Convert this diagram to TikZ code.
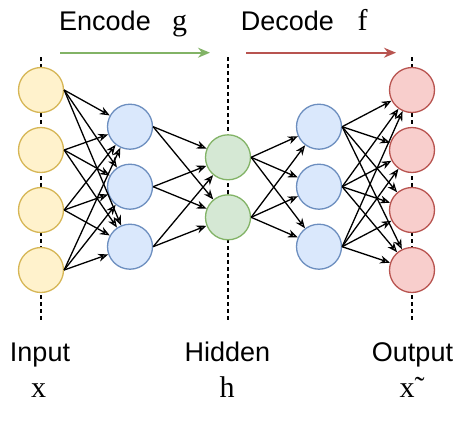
\documentclass[tikz,border=0pt]{standalone}
\usepackage{fontspec}
\setmainfont{Liberation Sans}
\newfontfamily\serifletter{Liberation Serif}
\usetikzlibrary{arrows.meta}
\definecolor{inpfill}{HTML}{FFF2CC}
\definecolor{inpline}{HTML}{D6B656}
\definecolor{hidfill}{HTML}{DAE8FC}
\definecolor{hidline}{HTML}{6C8EBF}
\definecolor{codefill}{HTML}{D5E8D4}
\definecolor{codeline}{HTML}{82B366}
\definecolor{outfill}{HTML}{F8CECC}
\definecolor{outline}{HTML}{B85450}
\tikzset{
    neuron/.style={circle, minimum size=45pt, inner sep=0pt, line width=1.3pt},
    inp/.style={neuron, draw=inpline, fill=inpfill},
    hid/.style={neuron, draw=hidline, fill=hidfill},
    code/.style={neuron, draw=codeline, fill=codefill},
    outp/.style={neuron, draw=outline, fill=outfill},
    conn/.style={line width=1.3pt, -{Stealth[open, length=10pt, width=8pt]}},
    label/.style={font=\fontsize{27}{32}\selectfont, anchor=base, inner sep=0pt},
    letter/.style={font=\fontsize{30}{34}\selectfont\serifletter, anchor=base, inner sep=0pt}
}
\begin{document}
\begin{tikzpicture}[x=1pt, y=-1pt]
        \useasboundingbox (0,0) rectangle (464,437);
        % guide lines
        \foreach \x in {41,228,412} {
                \draw[line width=1.2pt, dash pattern=on 4pt off 3pt] (\x,57) -- (\x,322);
            }
        % layers
        \foreach \i/\y in {1/90,2/150,3/210,4/270} {
                \node[inp] (in\i) at (41,\y) {};
                \node[outp] (out\i) at (412,\y) {};
            }
        \foreach \i/\y in {1/126.7,2/186.7,3/246.7} {
                \node[hid] (enc\i) at (130,\y) {};
                \node[hid] (dec\i) at (319,\y) {};
            }
        \node[code] (code1) at (228,157.3) {};
        \node[code] (code2) at (228,217.3) {};
        % connections
        \foreach \i in {1,2,3,4} {
                \foreach \j in {1,2,3} {
                        \draw[conn] (in\i.east) -- (enc\j);
                        \draw[conn] (dec\j.east) -- (out\i);
                    }
            }
        \foreach \i in {1,2,3} {
                \foreach \j in {1,2} {
                        \draw[conn] (enc\i.east) -- (code\j);
                        \draw[conn] (code\j.east) -- (dec\i);
                    }
            }
        % encode / decode
        \coordinate (encstart) at (60,52.7);
        \coordinate (encend) at (210,52.7);
        \coordinate (decstart) at (246,52.7);
        \coordinate (decend) at (396,52.7);
        \draw[codeline, line width=1.7pt, -{Stealth[length=12pt, width=10pt]}] (encstart) -- (encend);
        \draw[outline, line width=1.7pt, -{Stealth[length=12pt, width=10pt]}] (decstart) -- (decend);
        \node[label] (enctext) at (105,30.7) {Encode};
        \node[letter] (enclet) at (179.5,30.7) {g};
        \node[label] (dectext) at (287.5,30.7) {Decode};
        \node[letter] (declet) at (362.5,30.7) {f};
        % layer names
        \node[label] (inname) at (40,361) {Input};
        \node[label] (hidname) at (227.5,361) {Hidden};
        \node[label] (outname) at (412.5,361) {Output};
        \node[letter] (inlet) at (38.7,397) {x};
        \node[letter] (hidlet) at (227,397) {h};
        \node[letter] (outlet) at (412,397) {x˜};
    \end{tikzpicture}
\end{document}
